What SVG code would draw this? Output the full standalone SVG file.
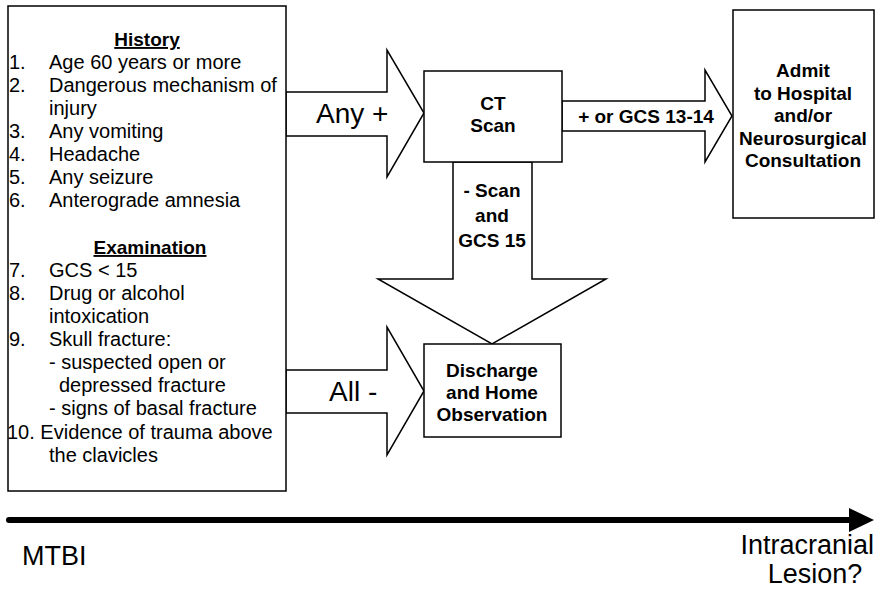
<svg xmlns="http://www.w3.org/2000/svg" width="875" height="597" viewBox="0 0 875 597">
<style>
.box{fill:#fff;stroke:#000;stroke-width:1.5}
.arr{fill:#fff;stroke:#000;stroke-width:1.5;stroke-linejoin:miter}
text{font-family:"Liberation Sans",Arial,sans-serif;fill:#000}
.li{font-size:20px}
.hd{font-size:19px;font-weight:bold;text-decoration:underline}
.b{font-size:19px;font-weight:bold;text-anchor:middle}
.big{font-size:28px}
.axis{font-size:27px}
</style>
<rect width="875" height="597" fill="#fff"/>
<g id="connectors">
  <polygon class="arr" points="286,92 387,92 387,50 424,113 387,177 387,136 286,136"/>
  <polygon class="arr" points="286,370 387,370 387,327 424,391 387,455 387,413 286,413"/>
  <polygon class="arr" points="562,101 705,101 705,70 732,116 705,162 705,131 562,131"/>
  <polygon class="arr" points="453,162 532,162 532,279 606,279 492,344 378,279 453,279"/>
  <line x1="9" y1="520" x2="852" y2="520" stroke="#000" stroke-width="6" stroke-linecap="round"/>
  <polygon points="849,508 874,520 849,532" fill="#000"/>
  <text class="big" x="316" y="123">Any +</text>
  <text class="big" x="329" y="401">All -</text>
  <text class="b" x="646" y="123">+ or GCS 13-14</text>
  <text class="b" x="492" y="197">- Scan</text>
  <text class="b" x="492" y="222">and</text>
  <text class="b" x="492" y="247">GCS 15</text>
</g>
<g id="criteria">
  <rect class="box" x="8" y="6" width="278" height="485"/>
  <text class="hd" x="147" y="46" text-anchor="middle">History</text>
  <text class="li" x="9" y="69">1.</text><text class="li" x="49" y="69">Age 60 years or more</text>
  <text class="li" x="9" y="92">2.</text><text class="li" x="49" y="92">Dangerous mechanism of</text>
  <text class="li" x="49" y="115">injury</text>
  <text class="li" x="9" y="138">3.</text><text class="li" x="49" y="138">Any vomiting</text>
  <text class="li" x="9" y="161">4.</text><text class="li" x="49" y="161">Headache</text>
  <text class="li" x="9" y="184">5.</text><text class="li" x="49" y="184">Any seizure</text>
  <text class="li" x="9" y="207">6.</text><text class="li" x="49" y="207">Anterograde amnesia</text>
  <text class="hd" x="150" y="254" text-anchor="middle">Examination</text>
  <text class="li" x="9" y="277">7.</text><text class="li" x="49" y="277">GCS &lt; 15</text>
  <text class="li" x="9" y="300">8.</text><text class="li" x="49" y="300">Drug or alcohol</text>
  <text class="li" x="49" y="323">intoxication</text>
  <text class="li" x="9" y="346">9.</text><text class="li" x="49" y="346">Skull fracture:</text>
  <text class="li" x="49" y="369">- suspected open or</text>
  <text class="li" x="59" y="392">depressed fracture</text>
  <text class="li" x="49" y="415">- signs of basal fracture</text>
  <text class="li" x="7" y="439">10. Evidence of trauma above</text>
  <text class="li" x="49" y="462">the clavicles</text>
</g>
<g id="ct-scan">
  <rect class="box" x="424" y="71" width="138" height="91"/>
  <text class="b" x="493" y="110">CT</text>
  <text class="b" x="493" y="132">Scan</text>
</g>
<g id="admit">
  <rect class="box" x="733" y="10" width="141" height="208"/>
  <text class="b" x="803" y="77">Admit</text>
  <text class="b" x="803" y="99.5">to Hospital</text>
  <text class="b" x="803" y="122">and/or</text>
  <text class="b" x="803" y="144.5">Neurosurgical</text>
  <text class="b" x="803" y="167">Consultation</text>
</g>
<g id="discharge">
  <rect class="box" x="424" y="344" width="137" height="93"/>
  <text class="b" x="492" y="377">Discharge</text>
  <text class="b" x="492" y="399">and Home</text>
  <text class="b" x="492" y="421">Observation</text>
</g>
<g id="axis-labels">
  <text class="axis" x="22" y="565">MTBI</text>
  <text class="axis" x="874" y="554" text-anchor="end">Intracranial</text>
  <text class="axis" x="815" y="583" text-anchor="middle">Lesion?</text>
</g>
</svg>
